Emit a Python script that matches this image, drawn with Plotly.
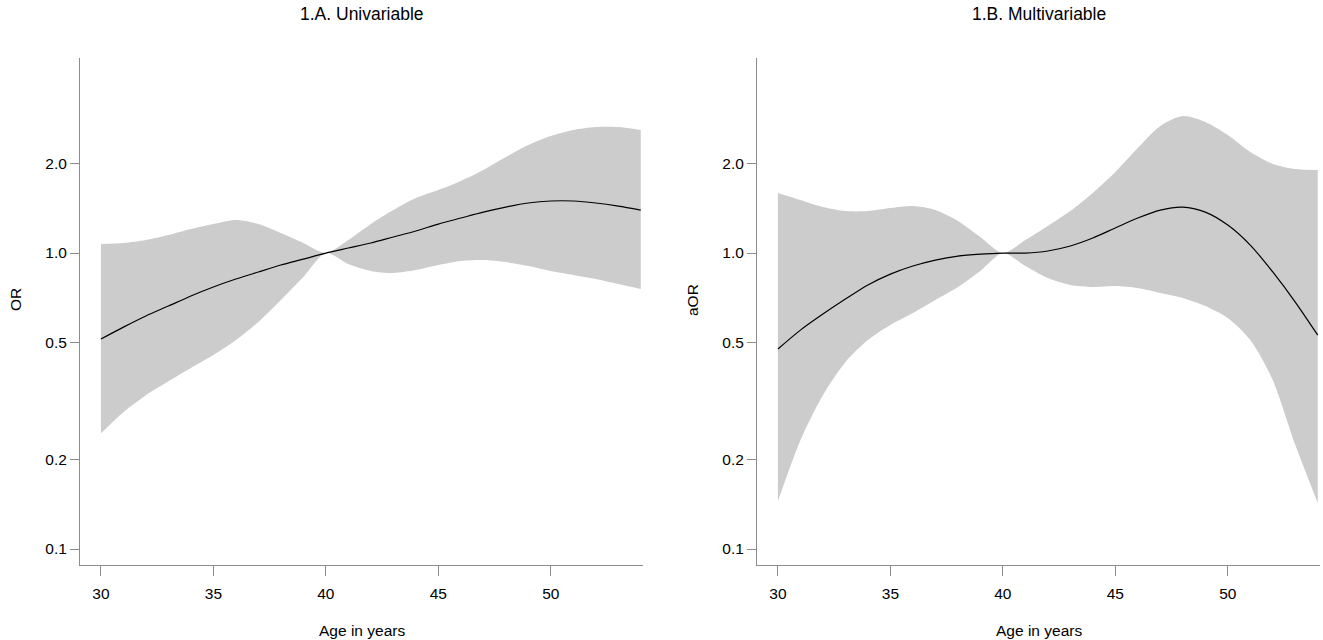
import plotly.graph_objects as go

# Age grid (years)
age = list(range(30, 55))

# 1.A Univariable: OR and 95% CI
uni_or = [0.512, 0.562, 0.613, 0.662, 0.716, 0.768, 0.817, 0.863, 0.911, 0.954, 1.0,
          1.04, 1.081, 1.133, 1.187, 1.253, 1.313, 1.375, 1.43, 1.476, 1.499, 1.499,
          1.476, 1.441, 1.397]
uni_hi = [1.072, 1.081, 1.106, 1.15, 1.205, 1.253, 1.293, 1.253, 1.168, 1.081, 1.0,
          1.106, 1.253, 1.397, 1.534, 1.632, 1.751, 1.907, 2.11, 2.317, 2.485, 2.604,
          2.666, 2.666, 2.604]
uni_lo = [0.246, 0.29, 0.331, 0.369, 0.409, 0.452, 0.508, 0.585, 0.694, 0.83, 1.0,
          0.918, 0.87, 0.856, 0.876, 0.911, 0.94, 0.947, 0.932, 0.904, 0.87, 0.843,
          0.817, 0.786, 0.756]

# 1.B Multivariable: aOR and 95% CI
multi_or = [0.474, 0.549, 0.622, 0.699, 0.78, 0.849, 0.904, 0.947, 0.977, 0.992, 1.0,
            1.0, 1.016, 1.056, 1.124, 1.215, 1.313, 1.397, 1.43, 1.375, 1.243, 1.064,
            0.863, 0.683, 0.528]
multi_hi = [1.595, 1.51, 1.43, 1.386, 1.386, 1.419, 1.441, 1.397, 1.283, 1.133, 1.0,
            1.106, 1.234, 1.386, 1.595, 1.878, 2.263, 2.686, 2.903, 2.771, 2.504, 2.194,
            2.0, 1.922, 1.907]
multi_lo = [0.145, 0.233, 0.331, 0.428, 0.508, 0.571, 0.627, 0.694, 0.768, 0.87, 1.0,
            0.904, 0.823, 0.78, 0.768, 0.774, 0.762, 0.733, 0.705, 0.662, 0.603, 0.508,
            0.372, 0.225, 0.143]

panel_titles = ["1.A. Univariable", "1.B. Multivariable"]
y_titles = ["OR", "aOR"]
x_title = "Age in years"
x_ticks = [30, 35, 40, 45, 50]
y_ticks = [0.1, 0.2, 0.5, 1.0, 2.0]
y_tick_text = ["0.1", "0.2", "0.5", "1.0", "2.0"]

W, H = 1323, 640
FONT = "Liberation Sans, Arial, sans-serif"
BAND = "#cccccc"
AXC = "#8c8c8c"

fig = go.Figure()

panels = [(uni_or, uni_lo, uni_hi, "x", "y"), (multi_or, multi_lo, multi_hi, "x2", "y2")]
for est, lo, hi, xa, ya in panels:
    fig.add_trace(go.Scatter(x=age, y=lo, mode="lines", line=dict(width=0, shape="spline", smoothing=0.8),
                             xaxis=xa, yaxis=ya, showlegend=False, hoverinfo="skip"))
    fig.add_trace(go.Scatter(x=age, y=hi, mode="lines", line=dict(width=0, shape="spline", smoothing=0.8),
                             fill="tonexty", fillcolor=BAND, xaxis=xa, yaxis=ya,
                             showlegend=False, hoverinfo="skip"))
    fig.add_trace(go.Scatter(x=age, y=est, mode="lines", line=dict(color="black", width=1.2, shape="spline", smoothing=0.8),
                             xaxis=xa, yaxis=ya, showlegend=False))

# pixel geometry
left_dom = [80 / W, 643 / W]
right_dom = [757 / W, 1320 / W]
y_dom = [1 - 565 / H, 1 - 58 / H]
xr = [29.07, 54.1]
yr = [-1.054, 0.659]

xcommon = dict(range=xr, tickvals=x_ticks, showline=True, linecolor=AXC, linewidth=1,
               ticks="outside", ticklen=10, tickcolor=AXC, tickwidth=1, showgrid=False,
               zeroline=False, ticklabelstandoff=4,
               tickfont=dict(family=FONT, size=15.5, color="black"))
ycommon = dict(type="log", range=yr, tickvals=y_ticks, ticktext=y_tick_text, showline=True,
               linecolor=AXC, linewidth=1, ticks="outside", ticklen=9, tickcolor=AXC, tickwidth=1,
               showgrid=False, zeroline=False, tickfont=dict(family=FONT, size=15.5, color="black"),
               domain=y_dom)

fig.update_layout(
    width=W, height=H, margin=dict(l=0, r=0, t=0, b=0),
    paper_bgcolor="white", plot_bgcolor="white",
    xaxis=dict(xcommon, domain=left_dom, anchor="y"),
    xaxis2=dict(xcommon, domain=right_dom, anchor="y2"),
    yaxis=dict(ycommon, anchor="x"),
    yaxis2=dict(ycommon, anchor="x2"),
)

anns = []
for i, dom in enumerate([left_dom, right_dom]):
    cx = (dom[0] + dom[1]) / 2
    anns.append(dict(text=panel_titles[i], x=cx, y=1 - 14 / H, xref="paper", yref="paper",
                     showarrow=False, xanchor="center", yanchor="middle",
                     font=dict(family=FONT, size=17.5, color="black")))
    anns.append(dict(text=x_title, x=cx, y=1 - 630 / H, xref="paper", yref="paper",
                     showarrow=False, xanchor="center", yanchor="middle",
                     font=dict(family=FONT, size=15.5, color="black")))
ypos = 1 - 300 / H
anns.append(dict(text=y_titles[0], x=15 / W, y=ypos, xref="paper", yref="paper", textangle=-90,
                 showarrow=False, xanchor="center", yanchor="middle",
                 font=dict(family=FONT, size=15.5, color="black")))
anns.append(dict(text=y_titles[1], x=692 / W, y=ypos, xref="paper", yref="paper", textangle=-90,
                 showarrow=False, xanchor="center", yanchor="middle",
                 font=dict(family=FONT, size=15.5, color="black")))
fig.update_layout(annotations=anns)

fig.write_html("out.html", config={"displayModeBar": False},
               post_script="document.body.style.margin='0';document.body.style.overflow='hidden';")
